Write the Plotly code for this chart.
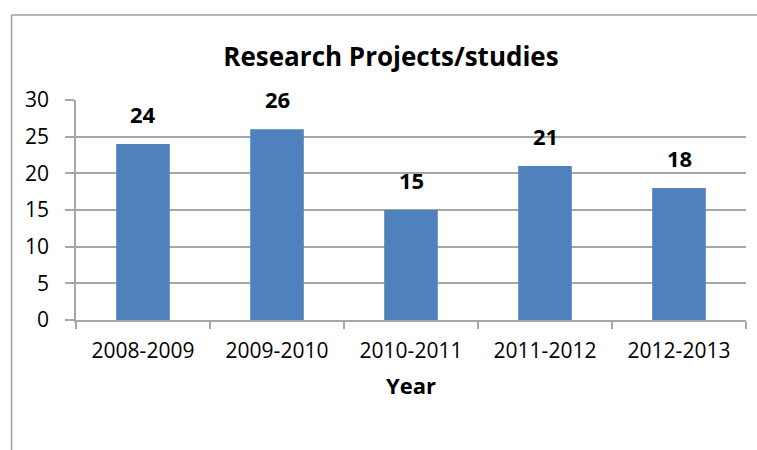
import plotly.graph_objects as go

years = ["2008-2009", "2009-2010", "2010-2011", "2011-2012", "2012-2013"]
projects = [24, 26, 15, 21, 18]
title_text = "Research Projects/studies"
x_title = "Year"

FONT = "Open Sans"
GRID = "#a6a6a6"

fig = go.Figure()
fig.add_trace(go.Bar(x=years, y=projects, marker=dict(color="#4F81BD", line=dict(width=0)),
                     width=0.4, showlegend=False))

for yr, v in zip(years, projects):
    fig.add_annotation(x=yr, y=v, text=f"<b>{v}</b>", showarrow=False, yanchor="bottom",
                       yshift=13, font=dict(family=FONT, size=22, color="black"))

L, R, T, B = 76, 746, 100, 320
W, H = 757, 450
def px(x):
    return (x - L) / (R - L)
def py(y):
    return (B - y) / (B - T)

fig.add_shape(type="line", xref="paper", yref="paper", x0=px(11.5), x1=px(757), y0=py(15), y1=py(15),
              line=dict(color="#a0a0a0", width=1.5))
fig.add_shape(type="line", xref="paper", yref="paper", x0=px(11.5), x1=px(11.5), y0=py(15), y1=py(450),
              line=dict(color="#a0a0a0", width=1.5))

fig.update_layout(
    width=W, height=H,
    margin=dict(l=L, r=W - R, t=T, b=H - B),
    paper_bgcolor="white", plot_bgcolor="white",
    title=dict(text=f"<b>{title_text}</b>", x=391 / W, xanchor="center", y=1 - 57 / H, yanchor="middle",
               font=dict(family=FONT, size=26, color="black")),
    font=dict(family=FONT, color="black"),
    xaxis=dict(type="category", showline=True, linecolor=GRID, linewidth=1.5,
               ticks="outside", tickson="boundaries", ticklen=7, tickcolor=GRID, tickwidth=1.5,
               tickfont=dict(family=FONT, size=21, color="black"), ticklabelstandoff=11,
               title=dict(text=f"<b>{x_title}</b>", font=dict(family=FONT, size=22, color="black"), standoff=16),
               showgrid=False),
    yaxis=dict(range=[0, 30], dtick=5, showline=True, linecolor=GRID, linewidth=1.5,
               ticks="outside", ticklen=9, tickcolor=GRID, tickwidth=1.5,
               showgrid=True, gridcolor=GRID, gridwidth=1.5, zeroline=False,
               tickfont=dict(family=FONT, size=21, color="black"), ticklabelstandoff=12),
    bargap=0.6,
)

fig.write_html("out.html")
